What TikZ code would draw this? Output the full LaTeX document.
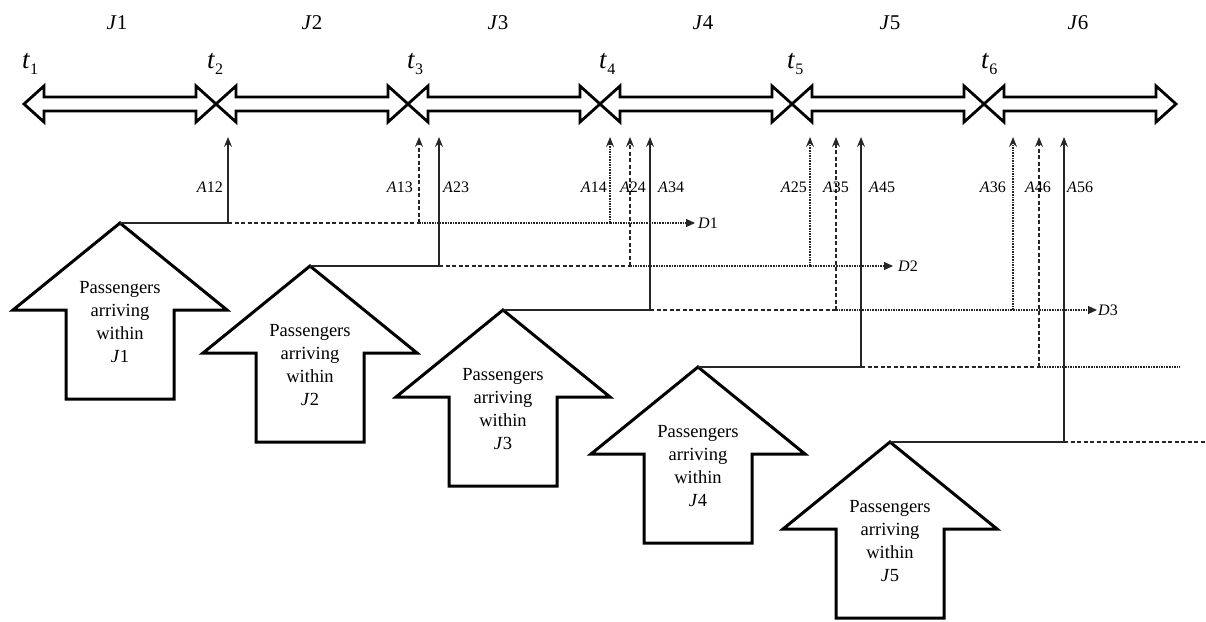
\documentclass[tikz,border=0pt]{standalone}
\usepackage{fontspec}
\setmainfont{Liberation Serif}
\usetikzlibrary{arrows.meta}
\begin{document}
\begin{tikzpicture}[x=1pt,y=-1pt,
  tlarrow/.style={line width=2.8pt, line join=miter, draw=black, fill=white},
  bigarrow/.style={line width=3pt, line join=miter, draw=black, fill=white},
  conn/.style={line width=1.1pt, draw=black!85},
  solidc/.style={conn},
  dashc/.style={conn, dash pattern=on 4pt off 2.5pt},
  dotc/.style={conn, dash pattern=on 1.6pt off 1pt},
  uparr/.style={-{Stealth[length=10pt,width=8pt,inset=3.5pt]}},
  darr/.style={-{Triangle[length=9pt,width=8pt]}},
  jlab/.style={font=\fontsize{21}{25}\selectfont, inner sep=0pt},
  tlab/.style={font=\fontsize{27}{30}\selectfont, inner sep=0pt, anchor=base west},
  alab/.style={font=\fontsize{16}{19}\selectfont, inner sep=0pt},
  dlab/.style={font=\fontsize{16}{19}\selectfont, inner sep=0pt, anchor=west},
  ptext/.style={font=\fontsize{18.5}{22.7}\selectfont, align=center, inner sep=0pt}
]
\useasboundingbox (0,0) rectangle (1206,621);

% timeline double arrows
\foreach \i in {0,...,5}{
  \pgfmathsetmacro\xa{24+192*\i}
  \pgfmathsetmacro\xb{24+192*(\i+1)}
  \draw[tlarrow] (\xa,104) -- (\xa+20,86) -- (\xa+20,97) -- (\xb-20,97) -- (\xb-20,86)
    -- (\xb,104) -- (\xb-20,122) -- (\xb-20,111) -- (\xa+20,111) -- (\xa+20,122) -- cycle;
}

% interval labels
\node[jlab] (J1) at (117,23) {\textit{J}1};
\node[jlab] (J2) at (312,23) {\textit{J}2};
\node[jlab] (J3) at (498,23) {\textit{J}3};
\node[jlab] (J4) at (703,23) {\textit{J}4};
\node[jlab] (J5) at (890,23) {\textit{J}5};
\node[jlab] (J6) at (1078,23) {\textit{J}6};

% time labels
\foreach \k/\x in {1/22, 2/207, 3/407, 4/599, 5/787, 6/981}{
  \node[tlab] (t\k) at (\x,68) {\textit{t}\raisebox{-6pt}{\fontsize{16}{16}\selectfont\k}};
}

% big passenger arrows
\foreach \n/\cx/\ay in {1/120/223, 2/310/266, 3/503/310, 4/698/367, 5/890/442}{
  \draw[bigarrow] (\cx,\ay) -- ++(107,87) -- ++(-53,0) -- ++(0,89) -- ++(-108,0)
     -- ++(0,-89) -- ++(-53,0) -- cycle;
  \coordinate (apex\n) at (\cx,\ay);
  \node[ptext] (P\n) at (\cx,\ay+99) {Passengers\\arriving\\within\\\textit{J}\n};
}

% break points on the horizontal lines
\coordinate (b12) at (228,223);
\coordinate (b13) at (419,223);
\coordinate (b14) at (610,223);
\coordinate (d1)  at (695,223);
\coordinate (b23) at (439,266);
\coordinate (b24) at (630,266);
\coordinate (b25) at (810,266);
\coordinate (d2)  at (893,266);
\coordinate (b34) at (650,310);
\coordinate (b35) at (836,310);
\coordinate (b36) at (1013,310);
\coordinate (d3)  at (1097,310);
\coordinate (b45) at (861,367);
\coordinate (b46) at (1039,367);
\coordinate (e4)  at (1180,367);
\coordinate (b56) at (1064,442);
\coordinate (e5)  at (1206,442);

% tops of the vertical arrows
\foreach \k/\x in {12/228, 13/419, 14/610, 23/439, 24/630, 25/810, 34/650, 35/836, 36/1013, 45/861, 46/1039, 56/1064}{
  \coordinate (u\k) at (\x,137);
}

% horizontal lines
\draw[solidc] (apex1) -- (b12);
\draw[dashc] (b12) -- (b13);
\draw[dotc] (b13) -- (b14);
\draw[dotc,darr] (b14) -- (d1);
\draw[solidc] (apex2) -- (b23);
\draw[dashc] (b23) -- (b24);
\draw[dotc] (b24) -- (b25);
\draw[dotc,darr] (b25) -- (d2);
\draw[solidc] (apex3) -- (b34);
\draw[dashc] (b34) -- (b35);
\draw[dotc] (b35) -- (b36);
\draw[dotc,darr] (b36) -- (d3);
\draw[solidc] (apex4) -- (b45);
\draw[dashc] (b45) -- (b46);
\draw[dotc] (b46) -- (e4);
\draw[solidc] (apex5) -- (b56);
\draw[dashc] (b56) -- (e5);

% vertical arrows
\draw[solidc,uparr] (b12) -- (u12);
\draw[dashc,uparr] (b13) -- (u13);
\draw[dotc,uparr] (b14) -- (u14);
\draw[solidc,uparr] (b23) -- (u23);
\draw[dashc,uparr] (b24) -- (u24);
\draw[dotc,uparr] (b25) -- (u25);
\draw[solidc,uparr] (b34) -- (u34);
\draw[dashc,uparr] (b35) -- (u35);
\draw[dotc,uparr] (b36) -- (u36);
\draw[solidc,uparr] (b45) -- (u45);
\draw[dashc,uparr] (b46) -- (u46);
\draw[solidc,uparr] (b56) -- (u56);

% arrow labels
\node[alab,anchor=east] (A12) at (223,187) {\textit{A}12};
\node[alab,anchor=east] (A13) at (413,187) {\textit{A}13};
\node[alab,anchor=west] (A23) at (443,187) {\textit{A}23};
\node[alab,anchor=east] (A14) at (607,187) {\textit{A}14};
\node[alab] (A24) at (633,187) {\textit{A}24};
\node[alab,anchor=west] (A34) at (658,187) {\textit{A}34};
\node[alab,anchor=east] (A25) at (807,187) {\textit{A}25};
\node[alab] (A35) at (836,187) {\textit{A}35};
\node[alab,anchor=west] (A45) at (869,187) {\textit{A}45};
\node[alab,anchor=east] (A36) at (1006,187) {\textit{A}36};
\node[alab] (A46) at (1038,187) {\textit{A}46};
\node[alab,anchor=west] (A56) at (1067,187) {\textit{A}56};

% departure labels
\node[dlab] (D1) at ([xshift=3pt]d1) {\textit{D}1};
\node[dlab] (D2) at ([xshift=5pt]d2) {\textit{D}2};
\node[dlab] (D3) at ([xshift=1pt]d3) {\textit{D}3};
\end{tikzpicture}
\end{document}
